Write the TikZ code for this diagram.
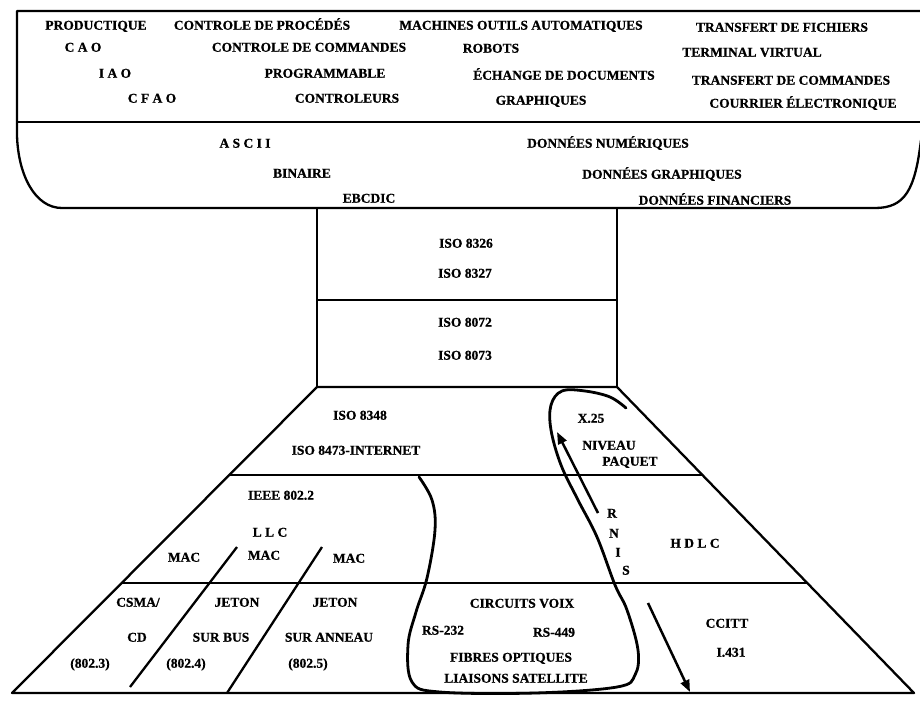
\documentclass[tikz,border=0pt]{standalone}
\usepackage{fontspec}
\setmainfont{Liberation Serif}[BoldFeatures={FakeBold=0.8}]
\usetikzlibrary{arrows.meta}

\tikzset{
  lbl/.style={font=\bfseries\fontsize{13.5}{15}\selectfont, inner sep=0pt,
              text height=9.4pt, text depth=0pt, anchor=center},
  frame/.style={line width=2.3pt, line join=round},
  loopline/.style={line width=2.8pt, line cap=round, line join=round},
  arr/.style={line width=2.5pt, -{Triangle[length=12pt,width=9pt]}},
}

\begin{document}
\begin{tikzpicture}[x=1pt,y=-1pt]
\useasboundingbox (0,0) rectangle (920,701);

% ---------- upper block: applications and presentation ----------
\draw[frame] (922,11) -- (17,11) -- (17,135)
  .. controls (18,175) and (35,208) .. (62,208) -- (875,208)
  .. controls (905,208) and (915,190) .. (921,140);
\draw[frame] (17,122) -- (922,122);

\node[lbl] (productique)  at (96,25)  {PRODUCTIQUE};
\node[lbl] (procedes)     at (262,25) {CONTROLE DE PROCÉDÉS};
\node[lbl] (machines)     at (521,25) {MACHINES OUTILS AUTOMATIQUES};
\node[lbl] (fichiers)     at (782,27) {TRANSFERT DE FICHIERS};
\node[lbl] (cao)          at (83,47)  {C A O};
\node[lbl] (commandes)    at (309,47) {CONTROLE DE COMMANDES};
\node[lbl] (robots)       at (491,48) {ROBOTS};
\node[lbl] (terminal)     at (752,52) {TERMINAL VIRTUAL};
\node[lbl] (iao)          at (115,73) {I A O};
\node[lbl] (programmable) at (325,73) {PROGRAMMABLE};
\node[lbl] (echange)      at (564,75) {ÉCHANGE DE DOCUMENTS};
\node[lbl] (trcommandes)  at (791,80) {TRANSFERT DE COMMANDES};
\node[lbl] (cfao)         at (152,98) {C F A O};
\node[lbl] (controleurs)  at (347,98) {CONTROLEURS};
\node[lbl] (graphiques)   at (541,100) {GRAPHIQUES};
\node[lbl] (courrier)     at (803,103) {COURRIER ÉLECTRONIQUE};

\node[lbl] (ascii)        at (245,143) {A S C I I};
\node[lbl] (numeriques)   at (608,143) {DONNÉES NUMÉRIQUES};
\node[lbl] (binaire)      at (302,173) {BINAIRE};
\node[lbl] (dgraphiques)  at (662,174) {DONNÉES GRAPHIQUES};
\node[lbl] (ebcdic)       at (369,198) {EBCDIC};
\node[lbl] (financiers)   at (715,200) {DONNÉES FINANCIERS};

% ---------- session / transport column ----------
\draw[frame] (317,208) -- (317,387);
\draw[frame] (617,208) -- (617,387);
\draw[frame] (317,300) -- (617,300);

\node[lbl] (iso8326) at (466,243) {ISO 8326};
\node[lbl] (iso8327) at (465,273) {ISO 8327};
\node[lbl] (iso8072) at (465,322) {ISO 8072};
\node[lbl] (iso8073) at (465,355) {ISO 8073};

% ---------- lower trapezoid: network, link, physical ----------
\draw[frame] (317,387) -- (617,387) -- (914,693) -- (12,693) -- cycle;
\draw[frame] (229.5,475) -- (702.4,475);
\draw[frame] (122.3,583) -- (807.2,583);

% MAC separators
\draw[frame] (237,547) -- (130,687);
\draw[frame] (322,547) -- (227,693);

\node[lbl] (iso8348) at (360,415) {ISO 8348};
\node[lbl] (iso8473) at (356,450) {ISO 8473-INTERNET};
\node[lbl] (x25)     at (591,418) {X.25};
\node[lbl] (niveau)  at (609,445) {NIVEAU};
\node[lbl] (paquet)  at (630,461) {PAQUET};

\node[lbl] (ieee) at (281,495) {IEEE 802.2};
\node[lbl] (llc)  at (270,532) {L L C};
\node[lbl] (mac1) at (184,557) {MAC};
\node[lbl] (mac2) at (264,555) {MAC};
\node[lbl] (mac3) at (349,558) {MAC};
\node[lbl] (hdlc) at (695,543) {H D L C};

\node[lbl] (csma)      at (138,602) {CSMA/};
\node[lbl] (cd)        at (137,637) {CD};
\node[lbl] (p8023)     at (90,663)  {(802.3)};
\node[lbl] (jeton1)    at (237,602) {JETON};
\node[lbl] (surbus)    at (221,637) {SUR BUS};
\node[lbl] (p8024)     at (186,663) {(802.4)};
\node[lbl] (jeton2)    at (335,602) {JETON};
\node[lbl] (suranneau) at (329,637) {SUR ANNEAU};
\node[lbl] (p8025)     at (308,663) {(802.5)};

\node[lbl] (circuits) at (522,603) {CIRCUITS VOIX};
\node[lbl] (rs232)    at (443,630) {RS-232};
\node[lbl] (rs449)    at (554,632) {RS-449};
\node[lbl] (fibres)   at (511,657) {FIBRES OPTIQUES};
\node[lbl] (liaisons) at (516,678) {LIAISONS SATELLITE};
\node[lbl] (ccitt)    at (727,623) {CCITT};
\node[lbl] (i431)     at (731,652) {I.431};

% RNIS written vertically
\node[lbl] (rR) at (612,513) {R};
\node[lbl] (rN) at (614,533) {N};
\node[lbl] (rI) at (618,552) {I};
\node[lbl] (rS) at (626,570) {S};

% hand-drawn loop around the RNIS stack
\draw[loopline] plot[smooth, tension=0.6] coordinates {
  (419,477) (432,500) (435,530) (427,578) (416,612) (408,645)
  (412,682) (440,692) (535,693) (617,687) (635,675) (638,650)
  (627,610) (615,585) (597,537) (578,500) (561,465) (551,430)
  (551,405) (562,391) (585,391) (610,397) (626,408)};

% arrows
\coordinate (rnisTail) at (598,513);
\coordinate (rnisHead) at (557,432);
\draw[arr] (rnisTail) -- (rnisHead);
\coordinate (downTail) at (648,603);
\coordinate (downHead) at (690,692);
\draw[arr] (downTail) -- (downHead);
\end{tikzpicture}
\end{document}
